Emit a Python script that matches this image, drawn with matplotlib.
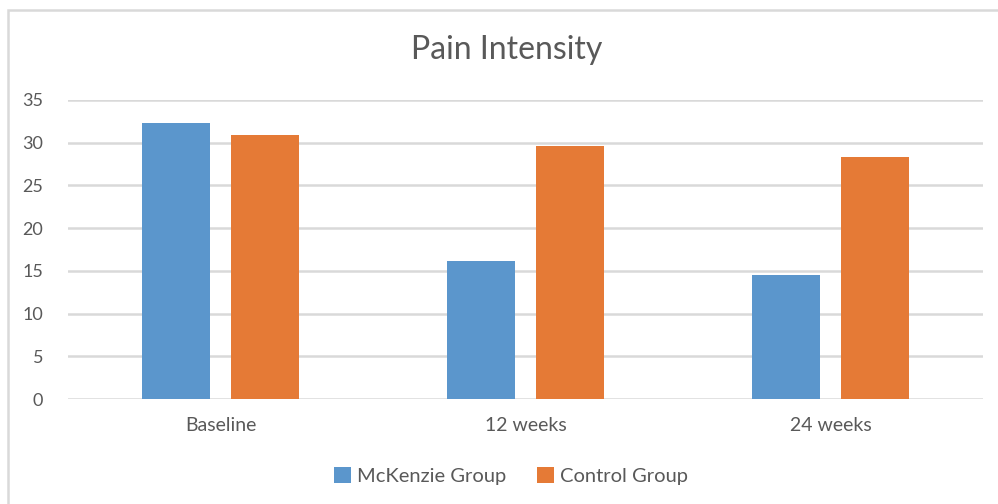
import matplotlib
matplotlib.use("Agg")
import matplotlib.pyplot as plt
import matplotlib.patches as patches
import numpy as np

categories = ["Baseline", "12 weeks", "24 weeks"]
mckenzie = [32.3, 16.2, 14.5]
control = [30.9, 29.6, 28.3]
series_names = ["McKenzie Group", "Control Group"]
y_ticks = [0, 5, 10, 15, 20, 25, 30, 35]

plt.rcParams['font.family'] = ['Lato', 'DejaVu Sans']
text_color = '#595959'
grid_color = '#d9d9d9'
colors = ['#5b96cc', '#e57a36']

fig = plt.figure(figsize=(9.98, 5.04), dpi=100)
ax = fig.add_axes([68 / 998, 1 - 399 / 504, 915 / 998, 299 / 504])

x = np.arange(len(categories))
width = 0.223
offset = 0.1445
ax.bar(x - offset, mckenzie, width, color=colors[0], label=series_names[0], zorder=3)
ax.bar(x + offset, control, width, color=colors[1], label=series_names[1], zorder=3)

ax.set_xlim(-0.5, len(categories) - 0.5)
ax.set_ylim(0, 35)
ax.set_yticks(y_ticks)
ax.set_xticks(x)
ax.set_xticklabels(categories)
ax.tick_params(axis='both', length=0, colors=text_color)
ax.tick_params(axis='y', pad=18, labelsize=13)
ax.tick_params(axis='x', pad=13, labelsize=14)
for spine in ax.spines.values():
    spine.set_visible(False)
ax.yaxis.grid(True, color=grid_color, linewidth=1.8, zorder=0)
ax.set_axisbelow(True)

fig.text(0.508, 1 - 50 / 504, "Pain Intensity", ha='center', va='center',
         fontsize=23, color=text_color)

fig.legend(loc='center', bbox_to_anchor=(0.512, 1 - 476 / 504), ncol=2,
           frameon=False, fontsize=14.5, labelcolor=text_color,
           handlelength=0.85, handleheight=0.85, handletextpad=0.3,
           columnspacing=1.5)

# light outer frame, right and bottom edges fall outside the canvas
frame = patches.Rectangle((8 / 998, -0.1), 1.2, 1 - 10 / 504 + 0.1,
                          transform=fig.transFigure, fill=False,
                          edgecolor=grid_color, linewidth=1.8, clip_on=False)
fig.patches.append(frame)

fig.savefig("out.png", dpi=100)
